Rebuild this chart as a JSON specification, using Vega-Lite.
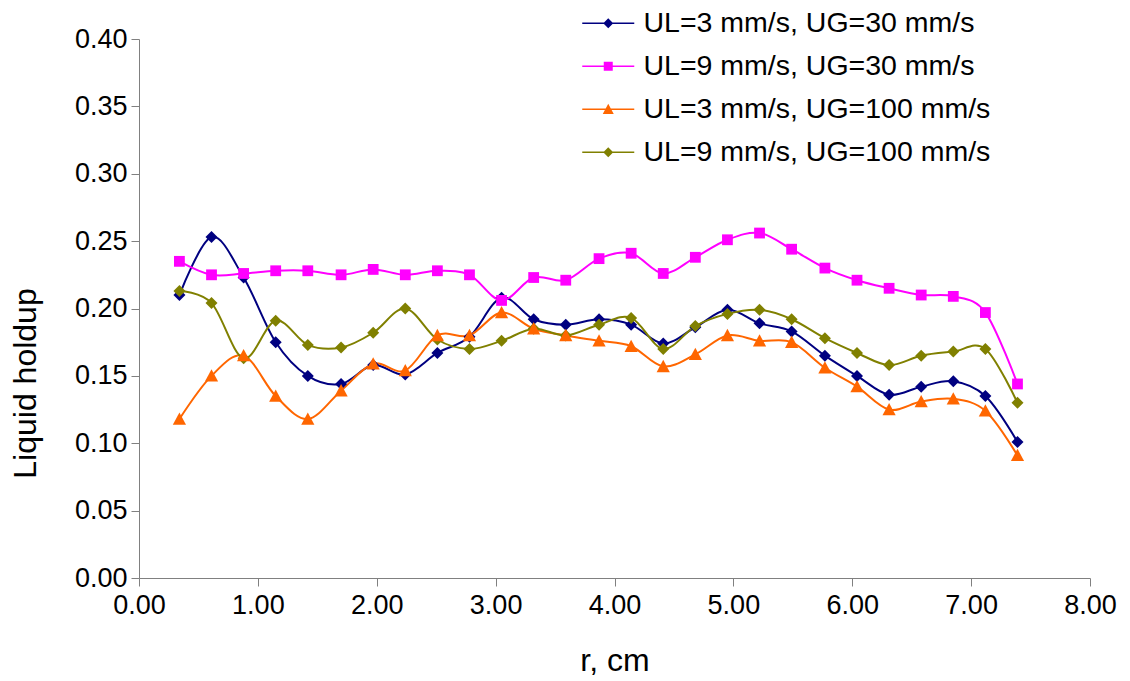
{
  "$schema": "https://vega.github.io/schema/vega-lite/v6.json",
  "width": 951,
  "height": 539,
  "autosize": {"type": "none"},
  "padding": {"left": 139, "top": 39, "right": 40, "bottom": 103},
  "background": "#ffffff",
  "config": {
    "view": {"stroke": null},
    "font": "Liberation Sans",
    "axis": {
      "grid": false,
      "domainColor": "#808080",
      "tickColor": "#808080",
      "domainWidth": 1,
      "tickWidth": 1,
      "tickSize": 8,
      "labelFont": "Liberation Sans",
      "labelFontSize": 27,
      "labelColor": "#000000",
      "labelFlush": false,
      "labelOverlap": false,
      "titleFont": "Liberation Sans",
      "titleFontSize": 32,
      "titleFontWeight": "normal",
      "titleColor": "#000000"
    },
    "legend": {
      "title": null,
      "orient": "none",
      "legendX": 455,
      "legendY": -30,
      "labelFont": "Liberation Sans",
      "labelFontSize": 28.5,
      "labelColor": "#000000",
      "labelLimit": 0,
      "labelOffset": 21,
      "rowPadding": 14,
      "symbolSize": 100,
      "symbolStrokeWidth": 0,
      "padding": 0
    }
  },
  "data": {
    "values": [
      {"r": 0.34, "holdup": 0.210, "series": "UL=3 mm/s, UG=30 mm/s"},
      {"r": 0.61, "holdup": 0.253, "series": "UL=3 mm/s, UG=30 mm/s"},
      {"r": 0.88, "holdup": 0.223, "series": "UL=3 mm/s, UG=30 mm/s"},
      {"r": 1.15, "holdup": 0.175, "series": "UL=3 mm/s, UG=30 mm/s"},
      {"r": 1.42, "holdup": 0.150, "series": "UL=3 mm/s, UG=30 mm/s"},
      {"r": 1.70, "holdup": 0.144, "series": "UL=3 mm/s, UG=30 mm/s"},
      {"r": 1.97, "holdup": 0.158, "series": "UL=3 mm/s, UG=30 mm/s"},
      {"r": 2.24, "holdup": 0.151, "series": "UL=3 mm/s, UG=30 mm/s"},
      {"r": 2.51, "holdup": 0.167, "series": "UL=3 mm/s, UG=30 mm/s"},
      {"r": 2.78, "holdup": 0.179, "series": "UL=3 mm/s, UG=30 mm/s"},
      {"r": 3.05, "holdup": 0.208, "series": "UL=3 mm/s, UG=30 mm/s"},
      {"r": 3.32, "holdup": 0.192, "series": "UL=3 mm/s, UG=30 mm/s"},
      {"r": 3.59, "holdup": 0.188, "series": "UL=3 mm/s, UG=30 mm/s"},
      {"r": 3.87, "holdup": 0.192, "series": "UL=3 mm/s, UG=30 mm/s"},
      {"r": 4.14, "holdup": 0.188, "series": "UL=3 mm/s, UG=30 mm/s"},
      {"r": 4.41, "holdup": 0.174, "series": "UL=3 mm/s, UG=30 mm/s"},
      {"r": 4.68, "holdup": 0.186, "series": "UL=3 mm/s, UG=30 mm/s"},
      {"r": 4.95, "holdup": 0.199, "series": "UL=3 mm/s, UG=30 mm/s"},
      {"r": 5.22, "holdup": 0.189, "series": "UL=3 mm/s, UG=30 mm/s"},
      {"r": 5.49, "holdup": 0.183, "series": "UL=3 mm/s, UG=30 mm/s"},
      {"r": 5.77, "holdup": 0.165, "series": "UL=3 mm/s, UG=30 mm/s"},
      {"r": 6.04, "holdup": 0.150, "series": "UL=3 mm/s, UG=30 mm/s"},
      {"r": 6.31, "holdup": 0.136, "series": "UL=3 mm/s, UG=30 mm/s"},
      {"r": 6.58, "holdup": 0.142, "series": "UL=3 mm/s, UG=30 mm/s"},
      {"r": 6.85, "holdup": 0.146, "series": "UL=3 mm/s, UG=30 mm/s"},
      {"r": 7.12, "holdup": 0.135, "series": "UL=3 mm/s, UG=30 mm/s"},
      {"r": 7.39, "holdup": 0.101, "series": "UL=3 mm/s, UG=30 mm/s"},
      {"r": 0.34, "holdup": 0.235, "series": "UL=9 mm/s, UG=30 mm/s"},
      {"r": 0.61, "holdup": 0.225, "series": "UL=9 mm/s, UG=30 mm/s"},
      {"r": 0.88, "holdup": 0.226, "series": "UL=9 mm/s, UG=30 mm/s"},
      {"r": 1.15, "holdup": 0.228, "series": "UL=9 mm/s, UG=30 mm/s"},
      {"r": 1.42, "holdup": 0.228, "series": "UL=9 mm/s, UG=30 mm/s"},
      {"r": 1.70, "holdup": 0.225, "series": "UL=9 mm/s, UG=30 mm/s"},
      {"r": 1.97, "holdup": 0.229, "series": "UL=9 mm/s, UG=30 mm/s"},
      {"r": 2.24, "holdup": 0.225, "series": "UL=9 mm/s, UG=30 mm/s"},
      {"r": 2.51, "holdup": 0.228, "series": "UL=9 mm/s, UG=30 mm/s"},
      {"r": 2.78, "holdup": 0.225, "series": "UL=9 mm/s, UG=30 mm/s"},
      {"r": 3.05, "holdup": 0.206, "series": "UL=9 mm/s, UG=30 mm/s"},
      {"r": 3.32, "holdup": 0.223, "series": "UL=9 mm/s, UG=30 mm/s"},
      {"r": 3.59, "holdup": 0.221, "series": "UL=9 mm/s, UG=30 mm/s"},
      {"r": 3.87, "holdup": 0.237, "series": "UL=9 mm/s, UG=30 mm/s"},
      {"r": 4.14, "holdup": 0.241, "series": "UL=9 mm/s, UG=30 mm/s"},
      {"r": 4.41, "holdup": 0.226, "series": "UL=9 mm/s, UG=30 mm/s"},
      {"r": 4.68, "holdup": 0.238, "series": "UL=9 mm/s, UG=30 mm/s"},
      {"r": 4.95, "holdup": 0.251, "series": "UL=9 mm/s, UG=30 mm/s"},
      {"r": 5.22, "holdup": 0.256, "series": "UL=9 mm/s, UG=30 mm/s"},
      {"r": 5.49, "holdup": 0.244, "series": "UL=9 mm/s, UG=30 mm/s"},
      {"r": 5.77, "holdup": 0.230, "series": "UL=9 mm/s, UG=30 mm/s"},
      {"r": 6.04, "holdup": 0.221, "series": "UL=9 mm/s, UG=30 mm/s"},
      {"r": 6.31, "holdup": 0.215, "series": "UL=9 mm/s, UG=30 mm/s"},
      {"r": 6.58, "holdup": 0.210, "series": "UL=9 mm/s, UG=30 mm/s"},
      {"r": 6.85, "holdup": 0.209, "series": "UL=9 mm/s, UG=30 mm/s"},
      {"r": 7.12, "holdup": 0.197, "series": "UL=9 mm/s, UG=30 mm/s"},
      {"r": 7.39, "holdup": 0.144, "series": "UL=9 mm/s, UG=30 mm/s"},
      {"r": 0.34, "holdup": 0.118, "series": "UL=3 mm/s, UG=100 mm/s"},
      {"r": 0.61, "holdup": 0.150, "series": "UL=3 mm/s, UG=100 mm/s"},
      {"r": 0.88, "holdup": 0.165, "series": "UL=3 mm/s, UG=100 mm/s"},
      {"r": 1.15, "holdup": 0.135, "series": "UL=3 mm/s, UG=100 mm/s"},
      {"r": 1.42, "holdup": 0.118, "series": "UL=3 mm/s, UG=100 mm/s"},
      {"r": 1.70, "holdup": 0.139, "series": "UL=3 mm/s, UG=100 mm/s"},
      {"r": 1.97, "holdup": 0.159, "series": "UL=3 mm/s, UG=100 mm/s"},
      {"r": 2.24, "holdup": 0.154, "series": "UL=3 mm/s, UG=100 mm/s"},
      {"r": 2.51, "holdup": 0.180, "series": "UL=3 mm/s, UG=100 mm/s"},
      {"r": 2.78, "holdup": 0.180, "series": "UL=3 mm/s, UG=100 mm/s"},
      {"r": 3.05, "holdup": 0.197, "series": "UL=3 mm/s, UG=100 mm/s"},
      {"r": 3.32, "holdup": 0.185, "series": "UL=3 mm/s, UG=100 mm/s"},
      {"r": 3.59, "holdup": 0.180, "series": "UL=3 mm/s, UG=100 mm/s"},
      {"r": 3.87, "holdup": 0.176, "series": "UL=3 mm/s, UG=100 mm/s"},
      {"r": 4.14, "holdup": 0.172, "series": "UL=3 mm/s, UG=100 mm/s"},
      {"r": 4.41, "holdup": 0.157, "series": "UL=3 mm/s, UG=100 mm/s"},
      {"r": 4.68, "holdup": 0.166, "series": "UL=3 mm/s, UG=100 mm/s"},
      {"r": 4.95, "holdup": 0.180, "series": "UL=3 mm/s, UG=100 mm/s"},
      {"r": 5.22, "holdup": 0.176, "series": "UL=3 mm/s, UG=100 mm/s"},
      {"r": 5.49, "holdup": 0.175, "series": "UL=3 mm/s, UG=100 mm/s"},
      {"r": 5.77, "holdup": 0.156, "series": "UL=3 mm/s, UG=100 mm/s"},
      {"r": 6.04, "holdup": 0.142, "series": "UL=3 mm/s, UG=100 mm/s"},
      {"r": 6.31, "holdup": 0.125, "series": "UL=3 mm/s, UG=100 mm/s"},
      {"r": 6.58, "holdup": 0.131, "series": "UL=3 mm/s, UG=100 mm/s"},
      {"r": 6.85, "holdup": 0.133, "series": "UL=3 mm/s, UG=100 mm/s"},
      {"r": 7.12, "holdup": 0.124, "series": "UL=3 mm/s, UG=100 mm/s"},
      {"r": 7.39, "holdup": 0.091, "series": "UL=3 mm/s, UG=100 mm/s"},
      {"r": 0.34, "holdup": 0.213, "series": "UL=9 mm/s, UG=100 mm/s"},
      {"r": 0.61, "holdup": 0.204, "series": "UL=9 mm/s, UG=100 mm/s"},
      {"r": 0.88, "holdup": 0.163, "series": "UL=9 mm/s, UG=100 mm/s"},
      {"r": 1.15, "holdup": 0.191, "series": "UL=9 mm/s, UG=100 mm/s"},
      {"r": 1.42, "holdup": 0.173, "series": "UL=9 mm/s, UG=100 mm/s"},
      {"r": 1.70, "holdup": 0.171, "series": "UL=9 mm/s, UG=100 mm/s"},
      {"r": 1.97, "holdup": 0.182, "series": "UL=9 mm/s, UG=100 mm/s"},
      {"r": 2.24, "holdup": 0.200, "series": "UL=9 mm/s, UG=100 mm/s"},
      {"r": 2.51, "holdup": 0.177, "series": "UL=9 mm/s, UG=100 mm/s"},
      {"r": 2.78, "holdup": 0.170, "series": "UL=9 mm/s, UG=100 mm/s"},
      {"r": 3.05, "holdup": 0.176, "series": "UL=9 mm/s, UG=100 mm/s"},
      {"r": 3.32, "holdup": 0.185, "series": "UL=9 mm/s, UG=100 mm/s"},
      {"r": 3.59, "holdup": 0.180, "series": "UL=9 mm/s, UG=100 mm/s"},
      {"r": 3.87, "holdup": 0.188, "series": "UL=9 mm/s, UG=100 mm/s"},
      {"r": 4.14, "holdup": 0.193, "series": "UL=9 mm/s, UG=100 mm/s"},
      {"r": 4.41, "holdup": 0.170, "series": "UL=9 mm/s, UG=100 mm/s"},
      {"r": 4.68, "holdup": 0.187, "series": "UL=9 mm/s, UG=100 mm/s"},
      {"r": 4.95, "holdup": 0.196, "series": "UL=9 mm/s, UG=100 mm/s"},
      {"r": 5.22, "holdup": 0.199, "series": "UL=9 mm/s, UG=100 mm/s"},
      {"r": 5.49, "holdup": 0.192, "series": "UL=9 mm/s, UG=100 mm/s"},
      {"r": 5.77, "holdup": 0.178, "series": "UL=9 mm/s, UG=100 mm/s"},
      {"r": 6.04, "holdup": 0.167, "series": "UL=9 mm/s, UG=100 mm/s"},
      {"r": 6.31, "holdup": 0.158, "series": "UL=9 mm/s, UG=100 mm/s"},
      {"r": 6.58, "holdup": 0.165, "series": "UL=9 mm/s, UG=100 mm/s"},
      {"r": 6.85, "holdup": 0.168, "series": "UL=9 mm/s, UG=100 mm/s"},
      {"r": 7.12, "holdup": 0.170, "series": "UL=9 mm/s, UG=100 mm/s"},
      {"r": 7.39, "holdup": 0.130, "series": "UL=9 mm/s, UG=100 mm/s"}
    ]
  },
  "encoding": {
    "x": {
      "field": "r",
      "type": "quantitative",
      "scale": {"domain": [0, 8], "nice": false, "zero": false},
      "axis": {
        "title": "r, cm",
        "values": [0, 1, 2, 3, 4, 5, 6, 7, 8],
        "format": ".2f",
        "labelPadding": 6,
        "titlePadding": 27
      }
    },
    "y": {
      "field": "holdup",
      "type": "quantitative",
      "scale": {"domain": [0, 0.4], "nice": false},
      "axis": {
        "title": "Liquid holdup",
        "values": [0, 0.05, 0.1, 0.15, 0.2, 0.25, 0.3, 0.35, 0.4],
        "format": ".2f",
        "labelPadding": 4,
        "titlePadding": 32,
        "titleY": 344
      }
    }
  },
  "layer": [
    {
      "transform": [{"filter": "datum.r < 0"}],
      "mark": {"type": "point", "filled": true, "opacity": 1, "size": 100},
      "encoding": {
        "color": {
          "field": "series",
          "type": "nominal",
          "scale": {
            "domain": ["UL=3 mm/s, UG=30 mm/s", "UL=9 mm/s, UG=30 mm/s", "UL=3 mm/s, UG=100 mm/s", "UL=9 mm/s, UG=100 mm/s"],
            "range": ["#000080", "#ff00ff", "#ff6600", "#808000"]
          },
          "legend": {"title": null}
        },
        "shape": {
          "field": "series",
          "type": "nominal",
          "scale": {
            "domain": ["UL=3 mm/s, UG=30 mm/s", "UL=9 mm/s, UG=30 mm/s", "UL=3 mm/s, UG=100 mm/s", "UL=9 mm/s, UG=100 mm/s"],
            "range": [
              "M-5.2,-0.15H5.2V0.15H-5.2ZM-1,0L0,-1L1,0L0,1Z",
              "M-5.2,-0.15H5.2V0.15H-5.2ZM-0.9,-0.9H0.9V0.9H-0.9Z",
              "M-5.2,-0.15H5.2V0.15H-5.2ZM0,-1.1L1.1,0.95H-1.1Z",
              "M-5.2,-0.15H5.2V0.15H-5.2ZM-1,0L0,-1L1,0L0,1Z"
            ]
          },
          "legend": {"title": null}
        }
      }
    },
    {
      "mark": {"type": "line", "interpolate": "cardinal", "tension": 0, "strokeWidth": 2},
      "encoding": {
        "color": {"field": "series", "type": "nominal", "legend": null},
        "detail": {"field": "series"}
      }
    },
    {
      "transform": [{"filter": {"field": "series", "oneOf": ["UL=3 mm/s, UG=30 mm/s", "UL=9 mm/s, UG=100 mm/s"]}}],
      "mark": {"type": "point", "filled": true, "opacity": 1, "size": 144, "shape": "M-1,0L0,-1L1,0L0,1Z"},
      "encoding": {"color": {"field": "series", "type": "nominal", "legend": null}}
    },
    {
      "transform": [{"filter": {"field": "series", "equal": "UL=9 mm/s, UG=30 mm/s"}}],
      "mark": {"type": "point", "filled": true, "opacity": 1, "size": 144, "shape": "M-0.9,-0.9H0.9V0.9H-0.9Z"},
      "encoding": {"color": {"field": "series", "type": "nominal", "legend": null}}
    },
    {
      "transform": [{"filter": {"field": "series", "equal": "UL=3 mm/s, UG=100 mm/s"}}],
      "mark": {"type": "point", "filled": true, "opacity": 1, "size": 144, "shape": "M0,-1.1L1.1,0.95H-1.1Z"},
      "encoding": {"color": {"field": "series", "type": "nominal", "legend": null}}
    }
  ]
}
